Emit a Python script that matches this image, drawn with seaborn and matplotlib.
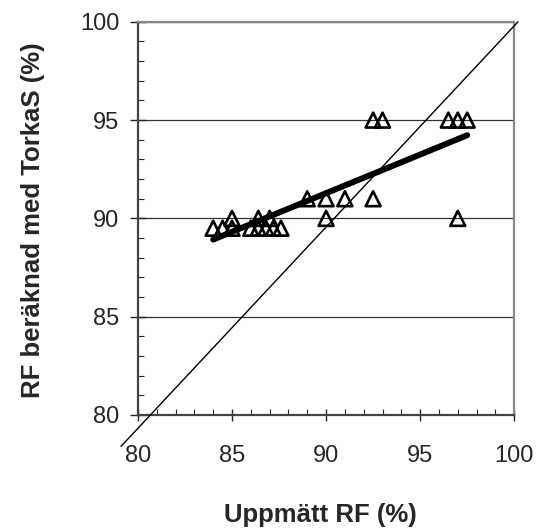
import matplotlib
matplotlib.use("Agg")
import matplotlib.pyplot as plt
import numpy as np
import pandas as pd
import seaborn as sns
from matplotlib.ticker import MultipleLocator

sns.set_style("ticks")
plt.rcParams["font.family"] = ["Liberation Sans", "DejaVu Sans"]

# measured RF vs RF computed with TorkaS
measured = [84, 84.5, 85, 86, 86.4, 86.8, 87.2, 87.6,
            85, 86.4, 87, 90, 97,
            89, 90, 91, 92.5,
            92.5, 93, 96.5, 97, 97.5]
computed = [89.5, 89.5, 89.5, 89.5, 89.5, 89.5, 89.5, 89.5,
            90, 90, 90, 90, 90,
            91, 91, 91, 91,
            95, 95, 95, 95, 95]

# 1:1 reference line end points
ref_x = [79.1, 100.2]
ref_y = [78.4, 100.0]

df = pd.DataFrame({"measured": measured, "computed": computed})

fig = plt.figure(figsize=(5.43, 5.32), dpi=100)
ax = fig.add_axes([0.254, 0.22, 0.693, 0.739])

ax.set_xlim(80, 100)
ax.set_ylim(80, 100)
ax.yaxis.grid(True, color="#333333", linewidth=0.9)
ax.set_axisbelow(True)

sns.scatterplot(data=df, x="measured", y="computed", marker="^", s=115,
                facecolor="none", edgecolor="black", linewidth=1.9, ax=ax, zorder=3)
sns.regplot(data=df, x="measured", y="computed", scatter=False, ci=None,
            color="black", line_kws={"linewidth": 4.3, "zorder": 4}, ax=ax)
ax.plot(ref_x, ref_y, color="black", linewidth=1.0, clip_on=False, zorder=5)

ax.xaxis.set_major_locator(MultipleLocator(5))
ax.yaxis.set_major_locator(MultipleLocator(5))
ax.xaxis.set_minor_locator(MultipleLocator(1))
ax.yaxis.set_minor_locator(MultipleLocator(1))
ax.tick_params(axis="x", which="major", direction="inout", length=9, width=1, pad=17, labelsize=17)
ax.tick_params(axis="y", which="major", direction="inout", length=11, width=1, pad=8, labelsize=17)
ax.tick_params(which="minor", direction="in", length=4.5, width=0.8)

for side in ["left", "bottom"]:
    ax.spines[side].set_color("#444444")
    ax.spines[side].set_linewidth(1.6)
for side in ["top", "right"]:
    ax.spines[side].set_color("#888888")
    ax.spines[side].set_linewidth(1.6)

ax.set_xlabel("Uppmätt RF (%)", fontsize=18.5, fontweight="bold")
ax.set_ylabel("RF beräknad med TorkaS (%)", fontsize=18.5, fontweight="bold")
ax.xaxis.set_label_coords(0.484, -0.224)
ax.yaxis.set_label_coords(-0.247, 0.496)

fig.savefig("out.png", dpi=100)
